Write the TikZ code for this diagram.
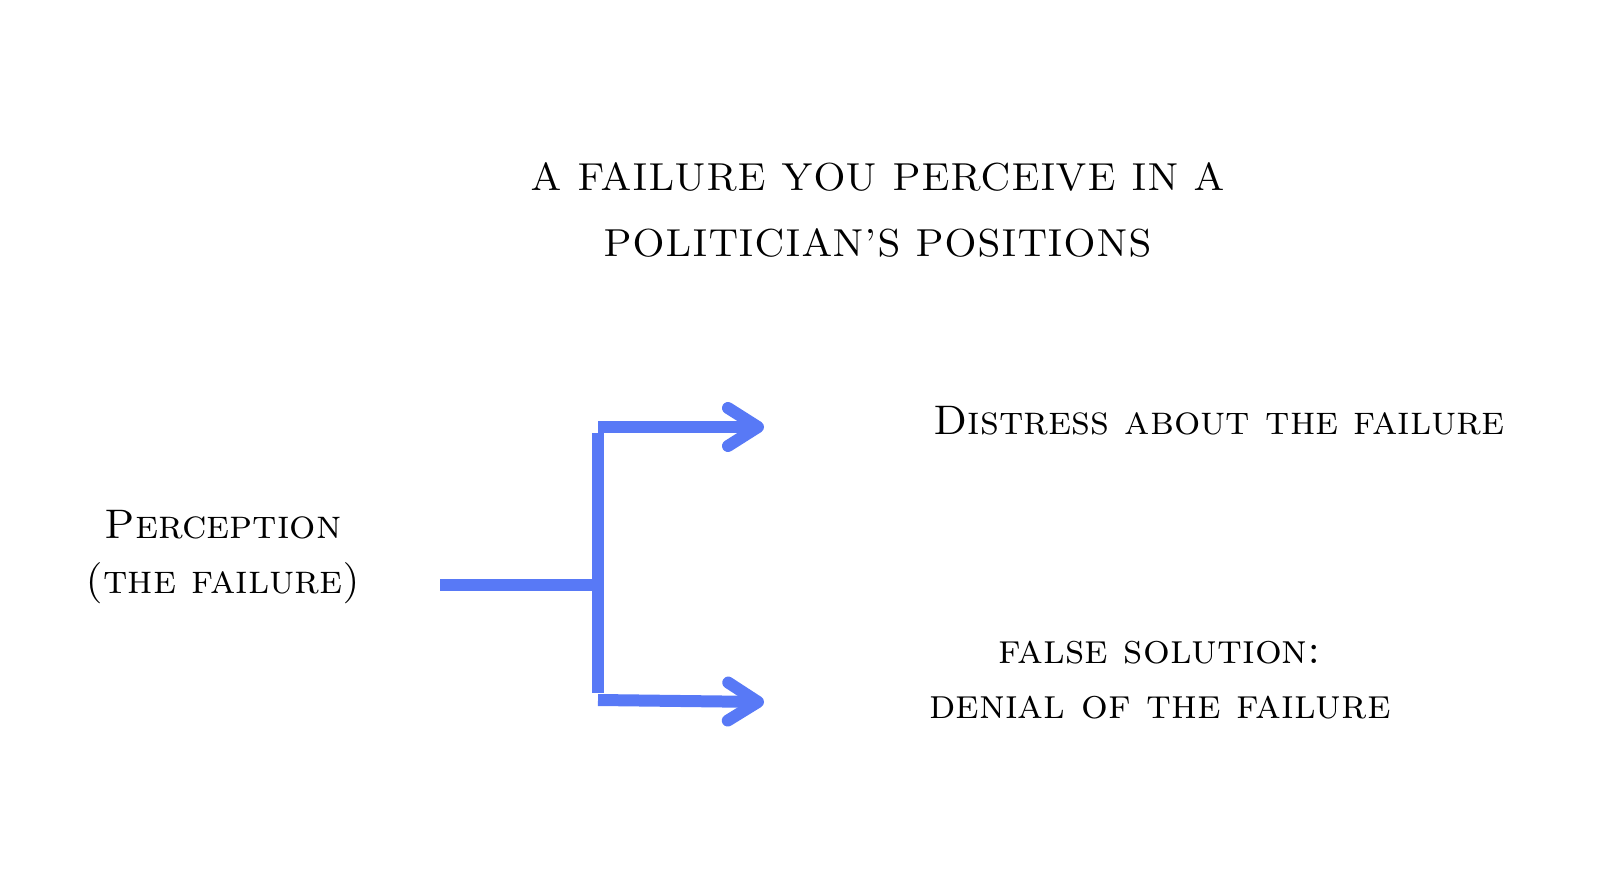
\documentclass[tikz,border=0pt]{standalone}
\usetikzlibrary{arrows.meta}
\definecolor{flowblue}{RGB}{88,121,246}
\tikzset{flow/.style={draw=flowblue,line width=0.24cm}}
\begin{document}
\begin{tikzpicture}
  [x=0.02cm,y=-0.02cm,every node/.style={align=center,font=\fontsize{23.5}{31}\selectfont\scshape}]
  \useasboundingbox (0,0) rectangle (1608,888);
  \node[font=\fontsize{22.2}{37.5}\selectfont\scshape] (title) at (878,210) {A FAILURE YOU PERCEIVE IN A\\ POLITICIAN’S POSITIONS};
  \node (perc) at (223,557) {Perception\\ (the failure)};
  \node (distress) at (1219,421) {Distress about the failure};
  \node[font=\fontsize{24}{31}\selectfont\scshape] (denial) at (1160,680) {false solution:\\ denial of the failure};

  \coordinate (stem) at (440,585);
  \coordinate (fork) at (598,585);
  \coordinate (forkup) at (598,433);
  \coordinate (forkdown) at (598,693);
  \coordinate (up) at (598,427);
  \coordinate (down) at (598,700);
  \coordinate (tipup) at (764,427);
  \coordinate (tipdown) at (764,702);

  \draw[flow] (stem) -- (fork);
  \draw[flow] (forkup) -- (forkdown);
  \foreach \src/\dst in {up/tipup, down/tipdown}
    \draw[flow,-{Straight Barb[length=0.6cm,width=0.76cm,round]}] (\src) -- (\dst);

\end{tikzpicture}
\end{document}
